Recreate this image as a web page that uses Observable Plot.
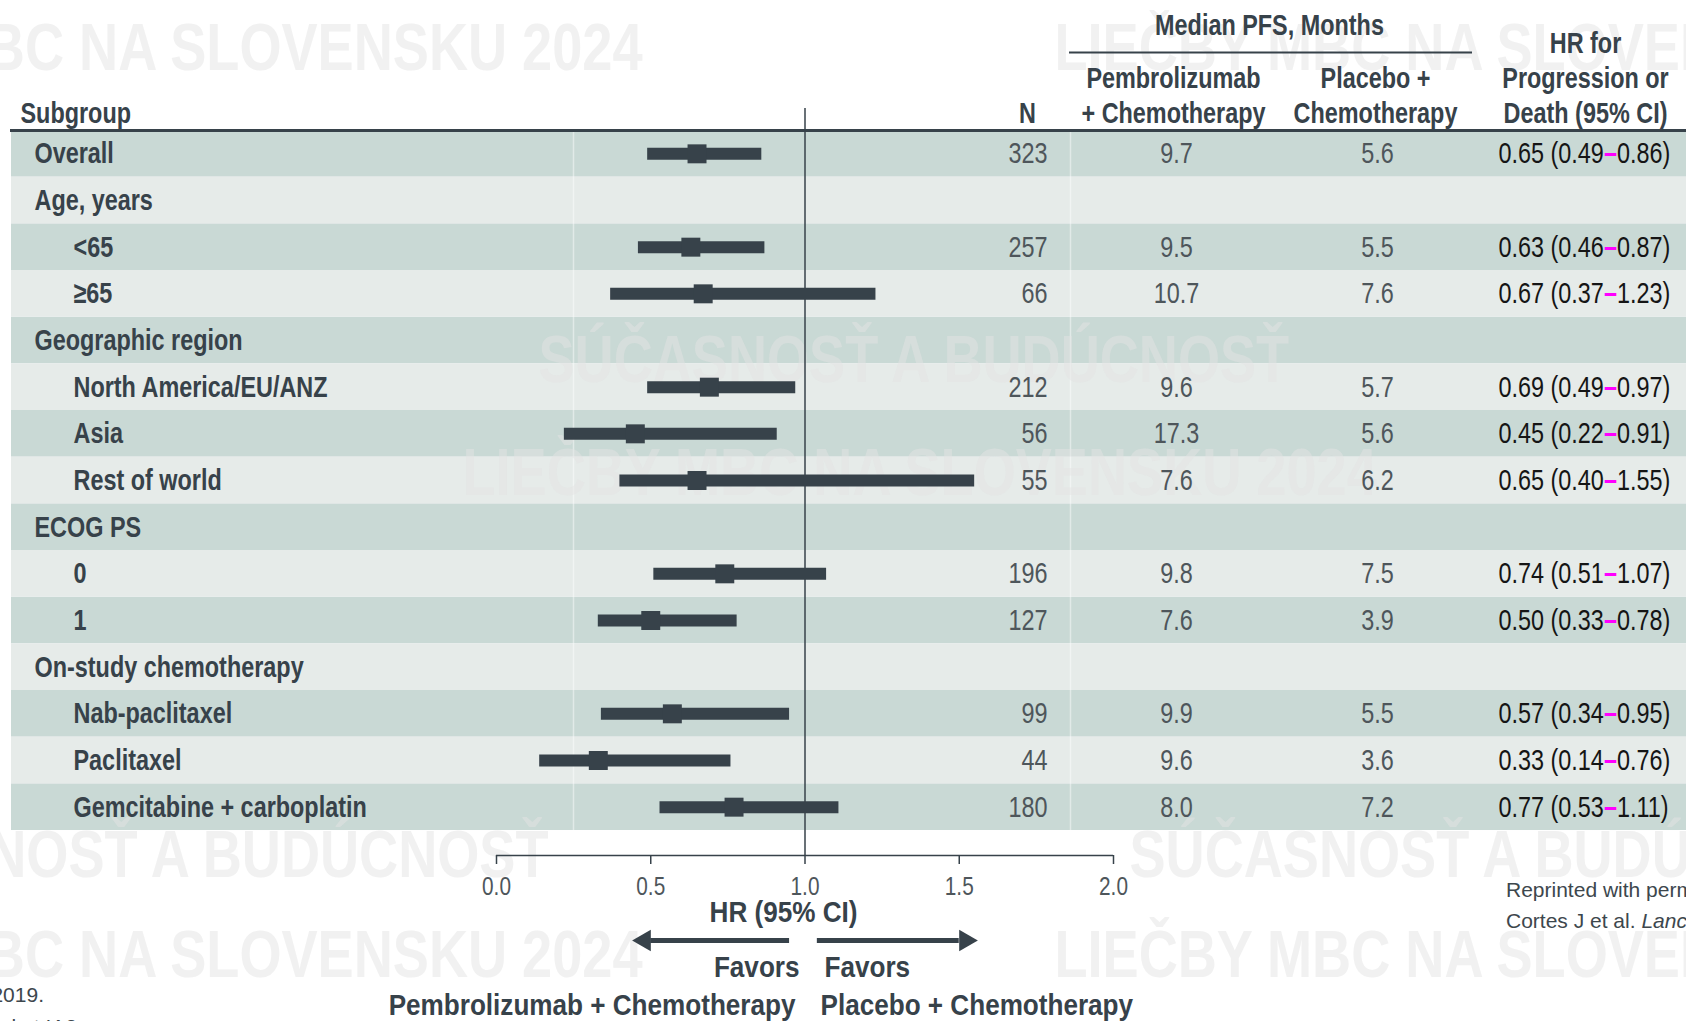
<!DOCTYPE html>
<html>
<head>
<meta charset="utf-8">
<script src="https://cdn.jsdelivr.net/npm/d3@7"></script>
<script src="https://cdn.jsdelivr.net/npm/@observablehq/plot@0.6"></script>
<style>
  html, body { margin: 0; padding: 0; background: #fff; overflow: hidden; }
  #wrap { position: relative; width: 1686px; height: 1021px; }
  #wrap svg { position: absolute; left: 0; top: 0; }
  .note { position: absolute; white-space: nowrap; pointer-events: none; line-height: 1;
          font-family: 'Liberation Sans', Arial, sans-serif; font-size: 21px; color: #3d474d; }
</style>
</head>
<body>
<div id="wrap"></div>
<script>
// Subgroup rows, top to bottom
const subgroups = [
  "Overall", "Age, years", "<65", "≥65", "Geographic region",
  "North America/EU/ANZ", "Asia", "Rest of world", "ECOG PS", "0", "1",
  "On-study chemotherapy", "Nab-paclitaxel", "Paclitaxel", "Gemcitabine + carboplatin"
];
// 0 = heading row, 1 = indented subgroup
const indentLevel = [0, 0, 1, 1, 0, 1, 1, 1, 0, 1, 1, 0, 1, 1, 1];
const nPatients  = [323, null, 257, 66, null, 212, 56, 55, null, 196, 127, null, 99, 44, 180];
// Median PFS, months
const pfsPembro  = [9.7, null, 9.5, 10.7, null, 9.6, 17.3, 7.6, null, 9.8, 7.6, null, 9.9, 9.6, 8.0];
const pfsPlacebo = [5.6, null, 5.5, 7.6, null, 5.7, 5.6, 6.2, null, 7.5, 3.9, null, 5.5, 3.6, 7.2];
// Hazard ratio for progression or death with 95% CI
const hazardRatio = [0.65, null, 0.63, 0.67, null, 0.69, 0.45, 0.65, null, 0.74, 0.50, null, 0.57, 0.33, 0.77];
const ciLow       = [0.49, null, 0.46, 0.37, null, 0.49, 0.22, 0.40, null, 0.51, 0.33, null, 0.34, 0.14, 0.53];
const ciHigh      = [0.86, null, 0.87, 1.23, null, 0.97, 0.91, 1.55, null, 1.07, 0.78, null, 0.95, 0.76, 1.11];
// Axis ticks and the direction arrows under the axis
const hrTicks = [0, 0.5, 1, 1.5, 2];
const arrowLeft  = {from: 0.95, to: 0.46};
const arrowRight = {from: 1.04, to: 1.54};

const FONT = "'Liberation Sans', Arial, sans-serif";
// Type sizes and the horizontal squeeze applied to each (narrow grotesque look)
const SIZE_TABLE = 30, SIZE_FOOT = 29, SIZE_TICK = 26, SIZE_WM = 66;
const SQUEEZE = {[SIZE_TABLE]: 0.78, [SIZE_FOOT]: 0.9, [SIZE_TICK]: 0.8, [SIZE_WM]: 0.82};
const INK = "#37424a";
const NUM = "#4e565b";
const BAND_DARK = "#c9d9d5";
const BAND_LIGHT = "#e6ebe9";
const DASH = "#ff00ff";

// Layout (px)
const W = 1686, H = 1021;
const LEFT = 11, TABLE_TOP = 130, TABLE_BOTTOM = 830, AXIS_Y = 855;
const X0 = 496, X1 = 1113; // pixel span of HR 0 to 2
const rowH = (TABLE_BOTTOM - TABLE_TOP) / subgroups.length;
const lastCenter = TABLE_BOTTOM - rowH / 2;
const firstCenter = TABLE_TOP + rowH / 2;
const ARROW_Y = 940;
const HR_START = 1498; // left edge of the HR (95% CI) column
const pxToHR = px => (px - X0) / (X1 - X0) * 2;
const columnSeparators = [573, 1070];

const rows = subgroups.map((label, i) => ({
  i, label, level: indentLevel[i], n: nPatients[i],
  pembro: pfsPembro[i], placebo: pfsPlacebo[i],
  hr: hazardRatio[i], lo: ciLow[i], hi: ciHigh[i]
}));
const estimates = rows.filter(d => d.hr != null);
const last = [rows[rows.length - 1]];
const first = [rows[0]];

// Faint event wordmark repeated across the page
const wordmarks = [
  {t: "LIEČBY MBC NA SLOVENSKU 2024", end: 642, y: 48},
  {t: "LIEČBY MBC NA SLOVENSKU 2024", start: 1054, y: 48},
  {t: "SÚČASNOSŤ A BUDÚCNOSŤ", start: 538, y: 360},
  {t: "LIEČBY MBC NA SLOVENSKU 2024", start: 462, y: 473},
  {t: "SÚČASNOSŤ A BUDÚCNOSŤ", end: 548, y: 855},
  {t: "SÚČASNOSŤ A BUDÚCNOSŤ", start: 1129, y: 855},
  {t: "LIEČBY MBC NA SLOVENSKU 2024", end: 642, y: 955},
  {t: "LIEČBY MBC NA SLOVENSKU 2024", start: 1054, y: 955}
];

const f1 = d3.format(".1f"), f2 = d3.format(".2f");
const txt = {fontFamily: FONT, fontSize: SIZE_TABLE, lineAnchor: "middle"};
const bold = {...txt, fontWeight: "bold", fill: INK};
const foot = {...bold, fontSize: SIZE_FOOT, frameAnchor: "bottom-left"};
const head = {...bold, frameAnchor: "top-left"};

// Width of a string in the table face after squeezing
const squeezedWidth = s => {
  const ctx = document.createElement("canvas").getContext("2d");
  ctx.font = `${SIZE_TABLE}px ${FONT}`;
  return ctx.measureText(s).width * SQUEEZE[SIZE_TABLE];
};
const dashW = squeezedWidth("–");
const leftW = squeezedWidth("0.00 (0.00");

const wordmarkMarks = wordmarks.map(w => Plot.text([w.t], {
  frameAnchor: "top-left", lineAnchor: "middle",
  dx: (w.start ?? w.end) - LEFT, dy: w.y - TABLE_TOP,
  textAnchor: w.start != null ? "start" : "end",
  fontFamily: FONT, fontSize: SIZE_WM, fontWeight: "bold", fill: "#e4e4e4", fillOpacity: 0.5
}));

const chart = Plot.plot({
  width: W, height: H,
  marginTop: TABLE_TOP, marginBottom: H - AXIS_Y, marginLeft: LEFT, marginRight: 0,
  style: {fontFamily: FONT, background: "transparent", overflow: "visible"},
  x: {domain: [0, 2], range: [X0, X1], axis: null},
  y: {domain: rows.map(d => d.i), range: [TABLE_TOP, TABLE_BOTTOM], padding: 0, round: false, axis: null},
  marks: [
    // alternating row bands
    Plot.cell(rows.filter(d => d.i % 2 === 0), {y: "i", fill: BAND_DARK}),
    Plot.cell(rows.filter(d => d.i % 2 === 1), {y: "i", fill: BAND_LIGHT}),
    Plot.ruleX(columnSeparators, {x: pxToHR, insetBottom: AXIS_Y - TABLE_BOTTOM, stroke: "#fff", strokeOpacity: 0.45, strokeWidth: 1.5}),
    ...wordmarkMarks,
    // header rule
    Plot.frame({anchor: "top", stroke: INK, strokeWidth: 3}),
    // rule under "Median PFS, Months"
    Plot.ruleY(first, {y: "i", dy: 52 - firstCenter, insetLeft: 1069 - LEFT, insetRight: W - 1472, stroke: INK, strokeWidth: 2}),
    // line of no effect
    Plot.ruleX([1], {stroke: INK, strokeWidth: 1.5, insetTop: -22}),
    // axis
    Plot.ruleY(last, {y: "i", x1: () => hrTicks[0], x2: () => hrTicks[hrTicks.length - 1], dy: AXIS_Y - lastCenter, stroke: INK, strokeWidth: 1.5}),
    Plot.axisX({anchor: "bottom", ticks: hrTicks, tickFormat: f1, tickSize: 9, tickPadding: 12,
      fontSize: SIZE_TICK, fontFamily: FONT, fill: NUM, stroke: INK, strokeWidth: 1.5, label: null}),
    // confidence intervals and point estimates
    Plot.ruleY(estimates, {y: "i", x1: "lo", x2: "hi", stroke: INK, strokeWidth: 12}),
    Plot.dot(estimates, {y: "i", x: "hr", symbol: "square", r: 10.7, fill: INK, stroke: null}),
    // subgroup labels
    Plot.text(["Subgroup"], {...head, dx: 20 - LEFT, dy: 113 - TABLE_TOP, textAnchor: "start"}),
    Plot.text(rows.filter(d => d.level === 0), {...bold, y: "i", text: "label", frameAnchor: "left", dx: 34 - LEFT, textAnchor: "start"}),
    Plot.text(rows.filter(d => d.level === 1), {...bold, y: "i", text: "label", frameAnchor: "left", dx: 73 - LEFT, textAnchor: "start"}),
    // column headers
    Plot.text(["N"], {...head, dx: 1027 - LEFT, dy: 113 - TABLE_TOP, textAnchor: "middle"}),
    Plot.text(["Median PFS, Months"], {...head, dx: 1269 - LEFT, dy: 25 - TABLE_TOP, textAnchor: "middle"}),
    Plot.text(["Pembrolizumab"], {...head, dx: 1173 - LEFT, dy: 78 - TABLE_TOP, textAnchor: "middle"}),
    Plot.text(["+ Chemotherapy"], {...head, dx: 1173 - LEFT, dy: 113 - TABLE_TOP, textAnchor: "middle"}),
    Plot.text(["Placebo +"], {...head, dx: 1375 - LEFT, dy: 78 - TABLE_TOP, textAnchor: "middle"}),
    Plot.text(["Chemotherapy"], {...head, dx: 1375 - LEFT, dy: 113 - TABLE_TOP, textAnchor: "middle"}),
    Plot.text(["HR for"], {...head, dx: 1585 - LEFT, dy: 43 - TABLE_TOP, textAnchor: "middle"}),
    Plot.text(["Progression or"], {...head, dx: 1585 - LEFT, dy: 78 - TABLE_TOP, textAnchor: "middle"}),
    Plot.text(["Death (95% CI)"], {...head, dx: 1585 - LEFT, dy: 113 - TABLE_TOP, textAnchor: "middle"}),
    // value columns
    Plot.text(estimates, {...txt, y: "i", text: d => String(d.n), frameAnchor: "left", dx: 1047 - LEFT, textAnchor: "end", fill: NUM}),
    Plot.text(estimates, {...txt, y: "i", text: d => f1(d.pembro), frameAnchor: "left", dx: 1176 - LEFT, textAnchor: "middle", fill: NUM}),
    Plot.text(estimates, {...txt, y: "i", text: d => f1(d.placebo), frameAnchor: "left", dx: 1377 - LEFT, textAnchor: "middle", fill: NUM}),
    Plot.text(estimates, {...txt, y: "i", text: d => `${f2(d.hr)} (${f2(d.lo)}`, frameAnchor: "left", dx: HR_START - LEFT, textAnchor: "start", fill: "#151515"}),
    Plot.text(estimates, {...txt, y: "i", text: () => "–", frameAnchor: "left", dx: HR_START + leftW - LEFT, textAnchor: "start", fill: DASH, fontWeight: "bold"}),
    Plot.text(estimates, {...txt, y: "i", text: d => `${f2(d.hi)})`, frameAnchor: "left", dx: HR_START + leftW + dashW - LEFT, textAnchor: "start", fill: "#151515"}),
    // axis title and direction labels
    Plot.text(["HR (95% CI)"], {...foot, dx: 783 - LEFT, dy: 912 - AXIS_Y, textAnchor: "middle"}),
    Plot.ruleY(last, {y: "i", x1: () => arrowLeft.from, x2: () => arrowLeft.to + 0.04, dy: ARROW_Y - lastCenter, stroke: INK, strokeWidth: 5}),
    Plot.ruleY(last, {y: "i", x1: () => arrowRight.from, x2: () => arrowRight.to - 0.04, dy: ARROW_Y - lastCenter, stroke: INK, strokeWidth: 5}),
    Plot.dot(last, {y: "i", x: () => arrowLeft.to + 0.02, dy: ARROW_Y - lastCenter, symbol: "triangle", rotate: -90, r: 8, fill: INK, stroke: null}),
    Plot.dot(last, {y: "i", x: () => arrowRight.to - 0.02, dy: ARROW_Y - lastCenter, symbol: "triangle", rotate: 90, r: 8, fill: INK, stroke: null}),
    Plot.text(["Favors"], {...foot, dx: 799 - LEFT, dy: 967 - AXIS_Y, textAnchor: "end"}),
    Plot.text(["Favors"], {...foot, dx: 824 - LEFT, dy: 967 - AXIS_Y, textAnchor: "start"}),
    Plot.text(["Pembrolizumab + Chemotherapy"], {...foot, dx: 795 - LEFT, dy: 1005 - AXIS_Y, textAnchor: "end"}),
    Plot.text(["Placebo + Chemotherapy"], {...foot, dx: 820 - LEFT, dy: 1005 - AXIS_Y, textAnchor: "start"})
  ]
});

const wrap = document.getElementById("wrap");
wrap.appendChild(chart);

// Squeeze every label horizontally according to its type size, keeping its anchor point
chart.querySelectorAll("text").forEach(t => {
  const size = parseFloat(getComputedStyle(t).fontSize);
  const k = SQUEEZE[size];
  if (!k) return;
  const spans = t.querySelectorAll("tspan");
  const targets = spans.length ? Array.from(spans) : [t];
  for (const el of targets) {
    const len = el.getComputedTextLength();
    if (len > 0) {
      el.setAttribute("textLength", (len * k).toFixed(2));
      el.setAttribute("lengthAdjust", "spacingAndGlyphs");
    }
  }
});

// Source notes
const notes = [
  {html: "Reprinted with permission from Elsevier.", start: 1506, y: 890},
  {html: "Cortes J et al. <i>Lancet</i>. 2020;396:1817-1828.", start: 1506, y: 921},
  {html: "Data cutoff: December 11, 2019.", end: 44, y: 995},
  {html: "PFS assessed at IA2", end: 77, y: 1027}
];
for (const n of notes) {
  const el = document.createElement("div");
  el.className = "note";
  el.innerHTML = n.html;
  el.style.top = (n.y - 11) + "px";
  if (n.start != null) el.style.left = n.start + "px";
  else el.style.right = (W - n.end) + "px";
  wrap.appendChild(el);
}
</script>
</body>
</html>
